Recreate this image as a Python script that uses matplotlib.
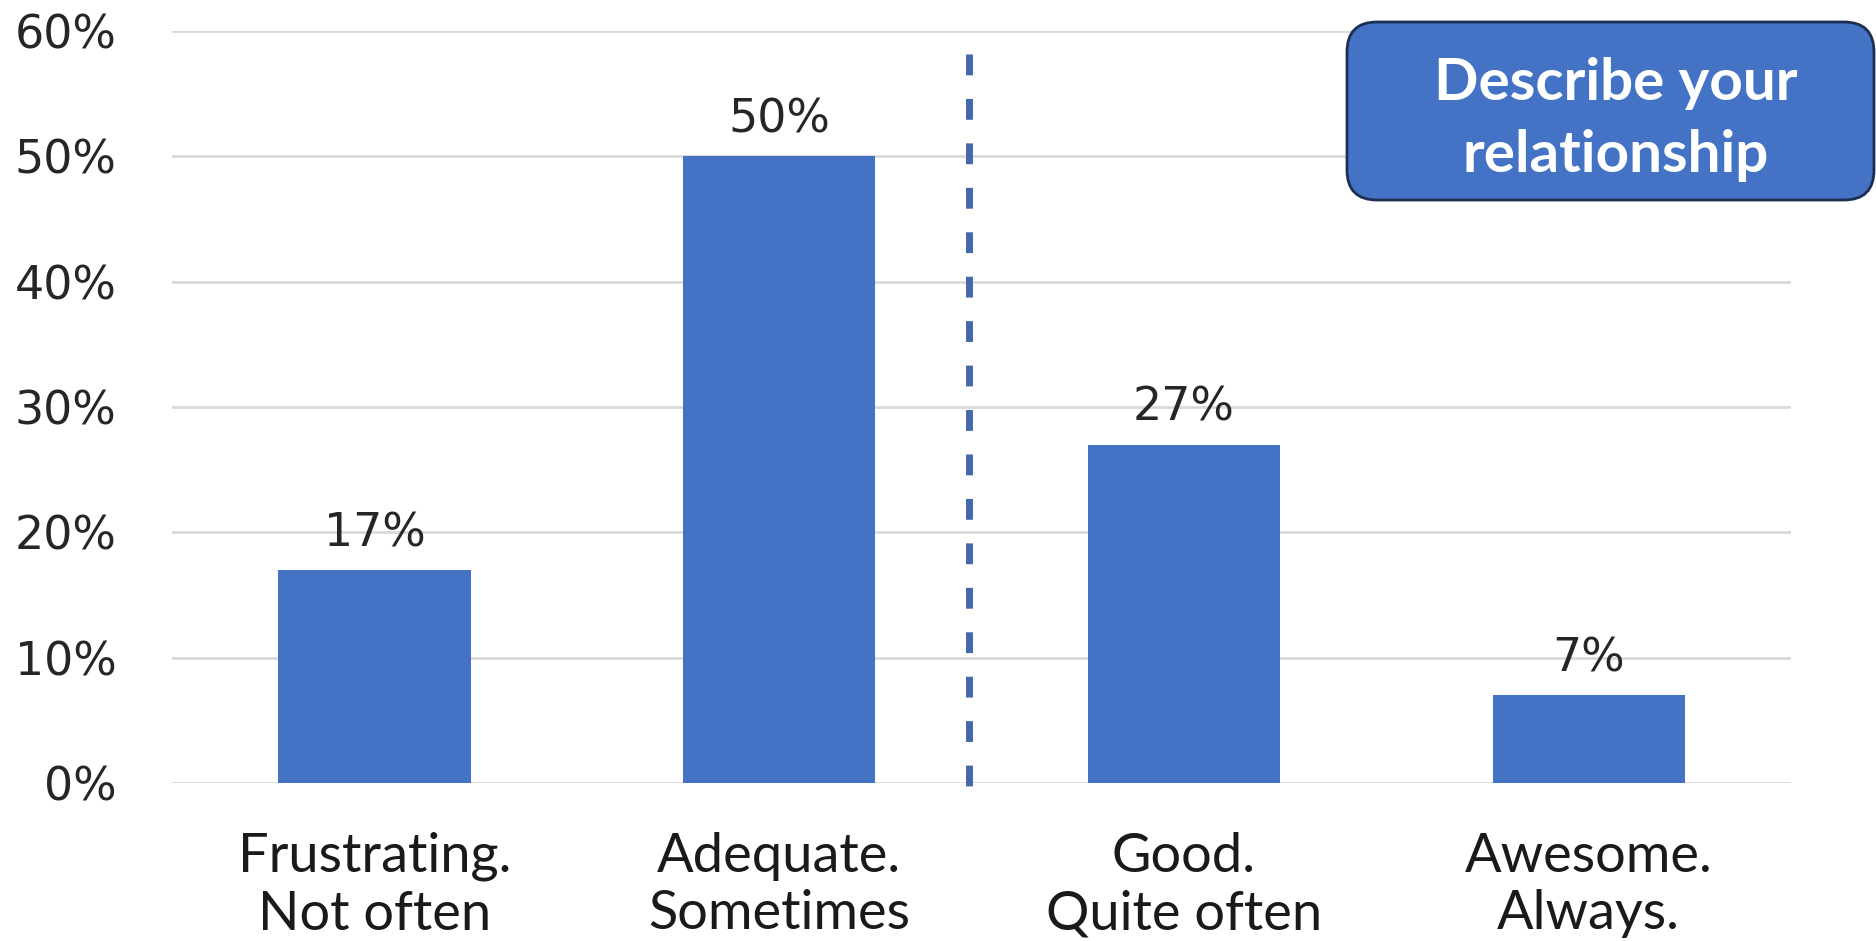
import matplotlib.pyplot as plt
from matplotlib.patches import FancyBboxPatch
from matplotlib.ticker import PercentFormatter

# Survey answers: "Describe your relationship"
categories = ["Frustrating.\nNot often", "Adequate.\nSometimes",
              "Good.\nQuite often", "Awesome.\nAlways."]
shares = [0.17, 0.50, 0.27, 0.07]
yticks = [0.0, 0.1, 0.2, 0.3, 0.4, 0.5, 0.6]

bar_color = "#4472C4"

fig = plt.figure(figsize=(18.76, 9.41), dpi=100)
ax = fig.add_axes([0.0917, 0.1679, 0.863, 0.7991])

x = range(len(categories))
bars = ax.bar(x, shares, width=0.475, color=bar_color, zorder=2)

# value labels above the bars
for b, v in zip(bars, shares):
    ax.annotate(f"{v:.0%}", (b.get_x() + b.get_width() / 2, v),
                xytext=(0, 10), textcoords="offset points",
                ha="center", va="bottom", fontsize=33, color="#262626",
                family="DejaVu Sans")

# separator between the negative and positive answers (drawn top-down)
ax.plot([1.47, 1.47], [0.582, -0.003], color="#4468a8", lw=5,
        linestyle=(0, (3.0, 3.4)), clip_on=False, zorder=3)

ax.set_xlim(-0.5, 3.5)
ax.set_ylim(0, 0.6)
ax.set_yticks(yticks)
ax.yaxis.set_major_formatter(PercentFormatter(1.0, decimals=0))
ax.set_xticks(list(x))
ax.set_xticklabels(categories, fontsize=39, family="Lato", color="#1a1a1a",
                   linespacing=1.22)
ax.tick_params(axis="y", length=0, pad=40, labelsize=33, labelcolor="#262626")
ax.tick_params(axis="x", length=0, pad=35)
ax.grid(axis="y", color="#d9d9d9", lw=2, zorder=0)
for s in ax.spines.values():
    s.set_visible(False)

# title box in the top right corner
box = FancyBboxPatch((13.47, 7.41), 5.27, 1.78,
                     boxstyle="round,pad=0,rounding_size=0.3",
                     transform=fig.dpi_scale_trans, facecolor=bar_color,
                     edgecolor="#1c2e52", lw=2, zorder=5)
fig.patches.append(box)
fig.text(0.8614, 0.873, "Describe your\nrelationship", ha="center", va="center",
         fontsize=42, fontweight="bold", family="Lato", color="white",
         linespacing=1.42, zorder=6)

fig.savefig("out.png", dpi=100)
